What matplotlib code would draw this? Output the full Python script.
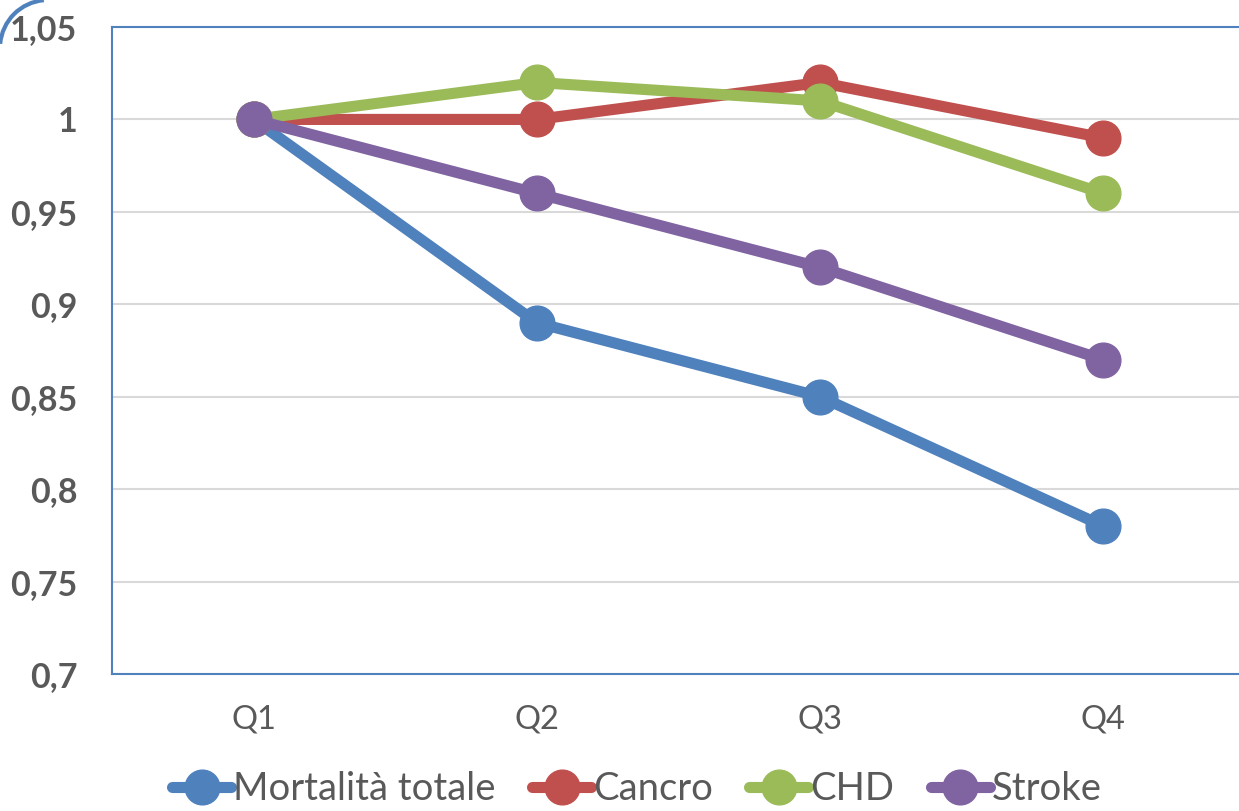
import matplotlib.pyplot as plt
from matplotlib.patches import Arc

# Data
quartiles = ['Q1', 'Q2', 'Q3', 'Q4']
mortalita = [1.0, 0.89, 0.85, 0.78]
cancro = [1.0, 1.0, 1.02, 0.99]
chd = [1.0, 1.02, 1.01, 0.96]
stroke = [1.0, 0.96, 0.92, 0.87]

series = [
    ('Mortalità totale', mortalita, '#4F81BD'),
    ('Cancro', cancro, '#C0504D'),
    ('CHD', chd, '#9BBB59'),
    ('Stroke', stroke, '#8064A2'),
]

plt.rcParams['font.family'] = ['Lato', 'DejaVu Sans']

fig = plt.figure(figsize=(12.39, 8.11), dpi=100)
ax = fig.add_axes([112 / 1239, 137 / 811, 1133 / 1239, 647 / 811])

xs = list(range(len(quartiles)))
for name, vals, col in series:
    ax.plot(xs, vals, color=col, lw=8, marker='o', markersize=25,
            solid_capstyle='round', label=name)

ax.set_xlim(-0.5, 3.5)
ax.set_ylim(0.7, 1.05)
yt = [0.7, 0.75, 0.8, 0.85, 0.9, 0.95, 1.0, 1.05]
ax.set_yticks(yt)
ax.set_yticklabels(['0,7', '0,75', '0,8', '0,85', '0,9', '0,95', '1', '1,05'],
                   fontsize=24.5, fontweight='bold', color='#595959')
ax.set_xticks(xs)
ax.set_xticklabels(quartiles, fontsize=23.5, color='#595959')
ax.tick_params(length=0)
ax.tick_params(axis='y', pad=25)
ax.tick_params(axis='x', pad=22)

ax.grid(axis='y', color='#D9D9D9', lw=1.5)
ax.set_axisbelow(True)
for s in ['left', 'bottom', 'top']:
    ax.spines[s].set_color('#4F81BD')
    ax.spines[s].set_linewidth(1.5)
ax.spines['right'].set_visible(False)

leg = fig.legend(loc='lower center', bbox_to_anchor=(0.514, 0.0), ncol=4, frameon=False,
                 fontsize=27.5, handlelength=1.55, handletextpad=0.05, columnspacing=0.95,
                 labelcolor='#595959', borderaxespad=0.05, borderpad=0.05)

# blue arc in the top-left corner
arc = Arc((48, 811 - 48), 96, 96, theta1=95, theta2=175, color='#4F81BD', lw=3,
          transform=None)
fig.patches.append(arc)

fig.savefig('out.png', dpi=100)
